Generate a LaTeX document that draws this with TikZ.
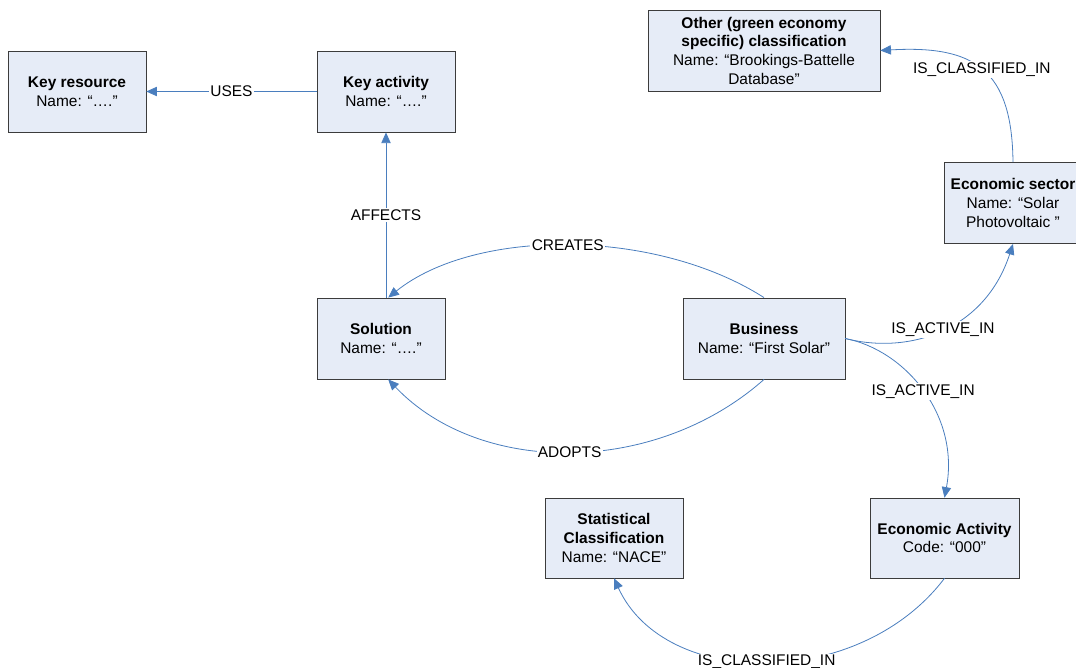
\documentclass[tikz,border=0pt]{standalone}
\usepackage{fontspec}
\setmainfont{Liberation Sans}
\usetikzlibrary{shapes,arrows.meta,positioning}
\definecolor{boxfill}{RGB}{230,236,247}
\definecolor{boxline}{RGB}{60,60,60}
\definecolor{linkblue}{RGB}{74,126,190}
\tikzstyle{block} = [rectangle, draw=boxline, fill=boxfill, align=center, minimum height=61pt, inner sep=2pt, font=\fontsize{11.6}{14}\selectfont]
\tikzstyle{line} = [draw=linkblue, line width=0.6pt, -{Triangle[length=8pt,width=7pt]}]
\tikzstyle{lbl} = [fill=white, inner sep=1pt, font=\fontsize{11.6}{13}\selectfont]
\begin{document}
\begin{tikzpicture}[x=0.75pt,y=-0.75pt]
    \useasboundingbox (0,0) rectangle (1076,668);
    \node [block, minimum width=103.5pt] (keyres) at (77,91.5) {\textbf{Key resource}\\Name: “….”};
    \node [block, minimum width=103.5pt] (keyact) at (386,91.5) {\textbf{Key activity}\\Name: “….”};
    \node [block, minimum width=174pt] (other) at (764,50.5) {\textbf{Other (green economy}\\\textbf{specific) classification}\\Name: “Brookings-Battelle\\Database”};
    \node [block, minimum width=103.5pt] (ecosec) at (1013,203) {\textbf{Economic sector}\\Name: “Solar\\Photovoltaic ”};
    \node [block, minimum width=96pt] (sol) at (381,338.5) {\textbf{Solution}\\Name: “….”};
    \node [block, minimum width=121.5pt] (biz) at (764,338.5) {\textbf{Business}\\Name: “First Solar”};
    \node [block, minimum width=103.5pt, minimum height=60pt] (stat) at (614,538) {\textbf{Statistical}\\\textbf{Classification}\\Name: “NACE”};
    \node [block, minimum width=111.75pt, minimum height=60pt] (econact) at (944.5,538) {\textbf{Economic Activity}\\Code: “000”};
    \path [line] (keyact.west) -- node[lbl] {USES} (keyres.east);
    \path [line] (keyact.south |- sol.north) -- node[lbl] {AFFECTS} (keyact.south);
    \path [line] (biz.north) .. controls (655,228) and (475,228) .. node[lbl] {CREATES} (sol.80);
    \path [line] (biz.south) .. controls (655,476) and (480,476) .. node[lbl] {ADOPTS} (sol.-80);
    \path [line] (biz.east) .. controls (910,355) and (985,330) .. node[lbl] {IS\_ACTIVE\_IN} (ecosec.south);
    \path [line] (biz.east) .. controls (905,350) and (960,415) .. node[lbl] {IS\_ACTIVE\_IN} (econact.north);
    \path [line] (ecosec.north) .. controls (1012,70) and (975,45) .. node[lbl] {IS\_CLASSIFIED\_IN} (other.east);
    \path [line] (econact.south) .. controls (860,690) and (665,690) .. node[lbl] {IS\_CLASSIFIED\_IN} (stat.south);
\end{tikzpicture}
\end{document}
